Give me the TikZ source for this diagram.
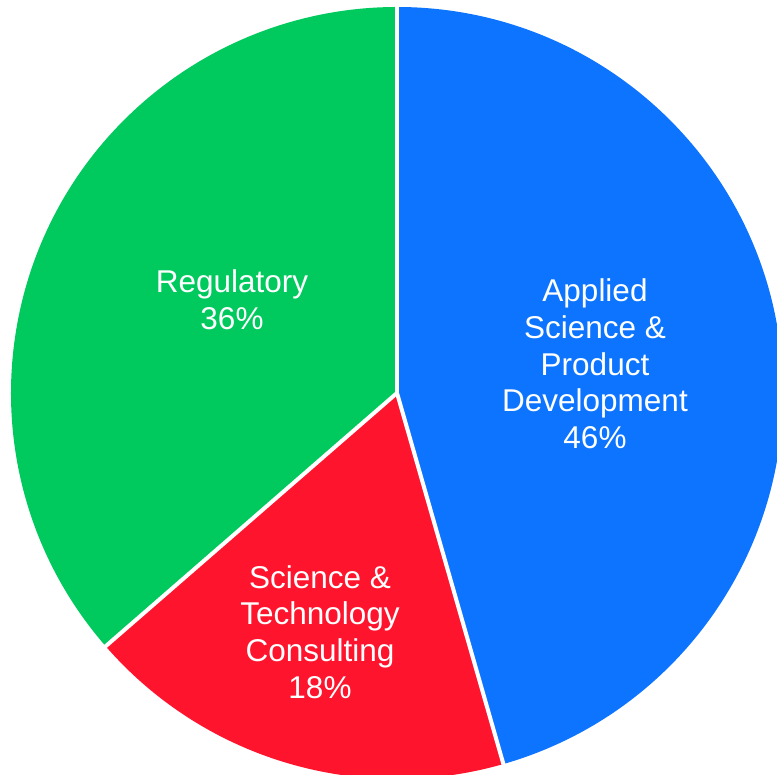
\documentclass[tikz,border=0pt]{standalone}
\usepackage{fontspec}
\setmainfont{Liberation Sans}
\usetikzlibrary{calc}
\definecolor{pieblue}{RGB}{13,116,255}
\definecolor{piered}{RGB}{255,20,46}
\definecolor{piegreen}{RGB}{0,202,94}
\begin{document}
\begin{tikzpicture}[x=1pt,y=1pt,
  slicelabel/.style={text=white, align=center, font=\fontsize{31.5}{36.7}\selectfont, inner sep=0pt},
  sep/.style={draw=white, line width=4pt}]
\useasboundingbox (0,0) rectangle (777,775);
\coordinate (C) at (397,382);
\def\R{386}
\fill[pieblue] (C) -- ++(90:\R) arc[start angle=90, end angle=-74, radius=\R] -- cycle;
\fill[piered] (C) -- ++(-74:\R) arc[start angle=-74, end angle=-139, radius=\R] -- cycle;
\fill[piegreen] (C) -- ++(221:\R) arc[start angle=221, end angle=90, radius=\R] -- cycle;
\coordinate (e1) at ($(C)+(90:\R+4)$);
\coordinate (e2) at ($(C)+(-74:\R+4)$);
\coordinate (e3) at ($(C)+(221:\R+4)$);
\draw[sep] (C) -- (e1);
\draw[sep] (C) -- (e2);
\draw[sep] (C) -- (e3);
\node[slicelabel] (lblue) at (595,411) {Applied\\Science \&\\Product\\Development\\46\%};
\node[slicelabel] (lgreen) at (232,475) {Regulatory\\36\%};
\node[slicelabel] (lred) at (320,143) {Science \&\\Technology\\Consulting\\18\%};
\end{tikzpicture}
\end{document}
